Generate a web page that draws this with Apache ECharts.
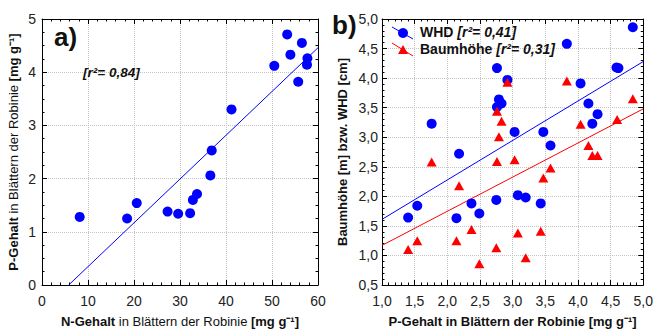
<!DOCTYPE html>
<html>
<head>
<meta charset="utf-8">
<script src="https://cdn.jsdelivr.net/npm/echarts@6/dist/echarts.min.js"></script>
<style>
  html, body { margin: 0; padding: 0; background: #fff; }
  #chart { width: 656px; height: 334px; }
</style>
</head>
<body>
<div id="chart"></div>
<script>
// panel a: N vs P content in leaves
const nGehalt = [8.2, 18.5, 20.6, 27.3, 29.6, 32.2, 32.8, 33.7, 36.6, 36.9, 41.2, 50.5, 53.3, 54.0, 56.5, 55.7, 57.6, 57.7];
const pGehaltA = [1.28, 1.25, 1.54, 1.38, 1.34, 1.35, 1.60, 1.71, 2.06, 2.53, 3.30, 4.12, 4.71, 4.33, 4.55, 3.82, 4.14, 4.26];
const fitA = [[5.8, 0], [60, 4.46]];

// panel b: P content vs WHD and tree height
const pGehaltWhd = [1.40, 1.54, 1.76, 2.14, 2.18, 2.37, 2.49, 2.75, 2.76, 2.76, 2.79, 2.83, 2.92, 3.03, 3.08, 3.20, 3.43, 3.47, 3.58, 3.83, 4.04, 4.16, 4.22, 4.30, 4.59, 4.62, 4.84];
const whd = [1.64, 1.84, 3.23, 1.63, 2.72, 1.88, 1.71, 1.94, 4.17, 3.51, 3.64, 3.57, 3.97, 3.09, 2.02, 1.98, 1.88, 3.09, 2.86, 4.58, 3.91, 3.57, 3.23, 3.39, 4.18, 4.17, 4.86];
const pGehaltHoehe = [1.40, 1.54, 1.76, 2.14, 2.18, 2.37, 2.49, 2.75, 2.76, 2.76, 2.79, 2.83, 2.92, 3.03, 3.08, 3.20, 3.43, 3.47, 3.58, 3.83, 4.04, 4.16, 4.22, 4.30, 4.60, 4.84];
const baumhoehe = [1.10, 1.25, 2.58, 1.25, 2.18, 1.44, 0.86, 1.13, 2.59, 3.44, 3.01, 3.27, 3.93, 2.62, 1.38, 0.96, 1.41, 2.31, 2.48, 3.95, 3.22, 2.86, 2.69, 2.69, 3.30, 3.65];
const fitWhd = [[1, 1.61], [5, 4.28]];
const fitHoehe = [[1, 1.17], [5, 3.48]];

const FONT = "'Liberation Sans', Arial, sans-serif";
const BLUE = "#0000ff";
const RED = "#ff0000";

const zip = (xs, ys) => xs.map((x, i) => [x, ys[i]]);
const comma = (v) => v.toFixed(1).replace(".", ",");

// one axis of a framed box; secondary ones just draw the frame + ticks
function axis(opts) {
	const main = !opts.secondary;
	return {
		type: "value",
		gridIndex: opts.grid,
		position: opts.position,
		min: opts.min,
		max: opts.max,
		interval: opts.interval,
		axisLine: { show: true, onZero: false, lineStyle: { color: "#000", width: 1 } },
		axisTick: { show: true, inside: true, length: 5, lineStyle: { color: "#000" } },
		minorTick: { show: true, splitNumber: opts.minor, length: 2.5, lineStyle: { color: "#000" } },
		axisLabel: {
			show: main,
			fontSize: 14,
			fontFamily: FONT,
			color: "#222",
			margin: opts.margin,
			formatter: opts.fmt,
			showMinLabel: true,
			showMaxLabel: true,
		},
		splitLine: { show: main, lineStyle: { color: "#c4c4c4", type: "dotted" } },
		name: main ? opts.name : "",
		nameLocation: "middle",
		nameGap: opts.nameGap,
		nameTextStyle: {
			fontFamily: FONT,
			fontSize: 13,
			color: "#111",
			rich: {
				b: { fontFamily: FONT, fontSize: 13, fontWeight: "bold", color: "#111" },
				n: { fontFamily: FONT, fontSize: 13, color: "#111" },
			},
		},
	};
}

const chart = echarts.init(document.getElementById("chart"), null, { renderer: "svg" });

chart.setOption({
	animation: false,
	grid: [
		{ left: 42, top: 19, width: 276, height: 266 },
		{ left: 382, top: 19, width: 265, height: 266 },
	],
	xAxis: [
		axis({ grid: 0, position: "bottom", min: 0, max: 60, interval: 10, minor: 5, margin: 9,
			name: "{b|N-Gehalt}{n| in Blättern der Robinie }{b|[mg g⁻¹]}", nameGap: 30 }),
		axis({ grid: 0, position: "top", min: 0, max: 60, interval: 10, minor: 5, secondary: true }),
		axis({ grid: 1, position: "bottom", min: 1, max: 5, interval: 0.5, minor: 5, margin: 9, fmt: comma,
			name: "{b|P-Gehalt in Blättern der Robinie [mg g⁻¹]}", nameGap: 30 }),
		axis({ grid: 1, position: "top", min: 1, max: 5, interval: 0.5, minor: 5, secondary: true }),
	],
	yAxis: [
		axis({ grid: 0, position: "left", min: 0, max: 5, interval: 1, minor: 4, margin: 6,
			name: "{b|P-Gehalt}{n| in Blättern der Robinie }{b|[mg g⁻¹]}", nameGap: 22 }),
		axis({ grid: 0, position: "right", min: 0, max: 5, interval: 1, minor: 4, secondary: true }),
		axis({ grid: 1, position: "left", min: 0.5, max: 5, interval: 0.5, minor: 5, margin: 4, fmt: comma,
			name: "{b|Baumhöhe [m] bzw. WHD [cm]}", nameGap: 33 }),
		axis({ grid: 1, position: "right", min: 0.5, max: 5, interval: 0.5, minor: 5, secondary: true }),
	],
	series: [
		// panel a
		{ type: "line", xAxisIndex: 0, yAxisIndex: 0, data: fitA, symbol: "none",
			lineStyle: { color: BLUE, width: 1 }, silent: true, z: 2 },
		{ type: "scatter", xAxisIndex: 0, yAxisIndex: 0, data: zip(nGehalt, pGehaltA),
			symbol: "circle", symbolSize: 10, itemStyle: { color: BLUE, opacity: 1 }, z: 3 },
		// panel b
		{ type: "line", xAxisIndex: 2, yAxisIndex: 2, data: fitWhd, symbol: "none",
			lineStyle: { color: BLUE, width: 1 }, silent: true, z: 2 },
		{ type: "line", xAxisIndex: 2, yAxisIndex: 2, data: fitHoehe, symbol: "none",
			lineStyle: { color: RED, width: 1 }, silent: true, z: 2 },
		{ type: "scatter", name: "WHD", xAxisIndex: 2, yAxisIndex: 2, data: zip(pGehaltWhd, whd),
			symbol: "circle", symbolSize: 10, itemStyle: { color: BLUE, opacity: 1 }, z: 3 },
		{ type: "scatter", name: "Baumhöhe", xAxisIndex: 2, yAxisIndex: 2, data: zip(pGehaltHoehe, baumhoehe),
			symbol: "triangle", symbolSize: [10, 9], itemStyle: { color: RED, opacity: 1 }, z: 4 },
	],
	graphic: [
		// panel labels and r² note
		{ type: "text", left: 54, top: 24, z: 10,
			style: { text: "a)", font: "bold 26px " + FONT, fill: "#111" } },
		{ type: "text", left: 83, top: 65, z: 10,
			style: { text: "[r²= 0,84]", font: "italic bold 13.5px " + FONT, fill: "#111" } },
		{ type: "text", left: 332, top: 12, z: 10,
			style: { text: "b)", font: "bold 26px " + FONT, fill: "#111" } },
		// hand-made legend for panel b (diagonal line through the marker)
		{ type: "line", z: 10, shape: { x1: 392, y1: 27, x2: 413, y2: 39 }, style: { stroke: BLUE, lineWidth: 1 } },
		{ type: "circle", z: 11, shape: { cx: 403, cy: 33, r: 5 }, style: { fill: BLUE } },
		{ type: "line", z: 10, shape: { x1: 392, y1: 43, x2: 413, y2: 56 }, style: { stroke: RED, lineWidth: 1 } },
		{ type: "polygon", z: 11, shape: { points: [[403, 45], [398, 54], [408, 54]] }, style: { fill: RED } },
		{ type: "text", left: 420, top: 25, z: 10,
			style: {
				text: "{b|WHD }{i|[r²= 0,41]}",
				rich: {
					b: { font: "bold 14px " + FONT, fill: "#111" },
					i: { font: "italic bold 14px " + FONT, fill: "#111" },
				},
			} },
		{ type: "text", left: 420, top: 42, z: 10,
			style: {
				text: "{b|Baumhöhe }{i|[r²= 0,31]}",
				rich: {
					b: { font: "bold 14px " + FONT, fill: "#111" },
					i: { font: "italic bold 14px " + FONT, fill: "#111" },
				},
			} },
	],
});
</script>
</body>
</html>
